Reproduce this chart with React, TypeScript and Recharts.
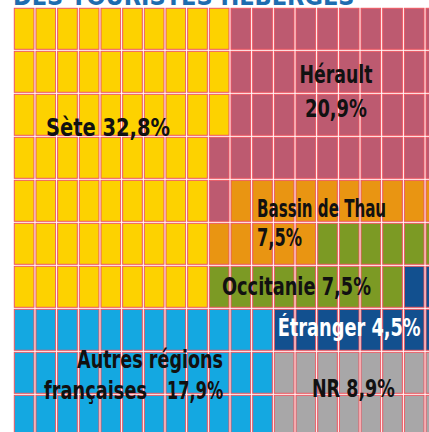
import React from 'react';
import { ScatterChart, Scatter, XAxis, YAxis, ReferenceArea } from 'recharts';

// Categories (waffle chart, 200 cells of 0.5 % each)
const categories = ['S', 'H', 'B', 'O', 'E', 'A', 'N'];
const categoryNames = ['Sète', 'Hérault', 'Bassin de Thau', 'Occitanie', 'Étranger', 'Autres régions françaises', 'NR'];
const shares = [32.8, 20.9, 7.5, 7.5, 4.5, 17.9, 8.9];
const colors = ['#fdd200', '#bd5a70', '#e99512', '#7c9a24', '#12508f', '#14a8e1', '#a8a7a8'];

// Cell assignment per row of the waffle grid (20 columns x 10 rows)
const gridRows = [
  'SSSSSSSSSSHHHHHHHHHH',
  'SSSSSSSSSSHHHHHHHHHH',
  'SSSSSSSSSSHHHHHHHHHH',
  'SSSSSSSSSHHHHHHHHHHH',
  'SSSSSSSSSHBBBBBBBBBB',
  'SSSSSSSSSBBBBBOOOOOO',
  'SSSSSSSSSOOOOOOOOOEE',
  'AAAAAAAAAAAAEEEEEEEE',
  'AAAAAAAAAAAANNNNNNNN',
  'AAAAAAAAAAAANNNNNNNN',
];

// Label texts
const labelTexts = ['Sète  32,8%', 'Hérault', '20,9%', 'Bassin de Thau', '7,5%', 'Occitanie 7,5%', 'Étranger 4,5%', 'Autres régions', 'françaises', '17,9%', 'NR 8,9%'];

// Label layout (grid units: column, row) – styling only
const labelLayout = [
  { x: 1.51, y: 3.0, anchor: 'start', w: 124, color: '#111' },
  { x: 14.89, y: 1.76, anchor: 'middle', w: 73, color: '#111' },
  { x: 14.89, y: 2.55, anchor: 'middle', w: 62, color: '#111' },
  { x: 11.25, y: 4.88, anchor: 'start', w: 129, color: '#111' },
  { x: 11.25, y: 5.55, anchor: 'start', w: 45, color: '#111' },
  { x: 9.63, y: 6.69, anchor: 'start', w: 149, color: '#111' },
  { x: 12.2, y: 7.64, anchor: 'start', w: 143, color: '#ffffff' },
  { x: 9.68, y: 8.38, anchor: 'end', w: 146, color: '#111' },
  { x: 1.42, y: 9.11, anchor: 'start', w: 103, color: '#111' },
  { x: 9.68, y: 9.11, anchor: 'end', w: 56, color: '#111' },
  { x: 13.78, y: 9.06, anchor: 'start', w: 83, color: '#111' },
];

const cells = gridRows.flatMap((row, r) =>
  row.split('').map((code, c) => ({ col: c, row: r, cat: categories.indexOf(code) }))
);

const labelData = labelTexts.map((t, i) => ({ text: t, ...labelLayout[i] }));

const CellShape = (props: any) => {
  const { x, y, width, height, fill } = props;
  return (
    <g>
      <rect x={x} y={y} width={width} height={height} fill="#ffffff" />
      <rect x={x + 1} y={y + 1} width={width - 2} height={height - 2} fill={fill} stroke="#ef5560" strokeWidth={1} />
    </g>
  );
};

const LabelShape = (props: any) => {
  const { cx, cy, payload } = props;
  return (
    <text
      x={cx}
      y={cy}
      textAnchor={payload.anchor}
      fill={payload.color}
      fontFamily="'Liberation Sans Narrow', 'DejaVu Sans Condensed', 'Roboto', sans-serif"
      fontWeight="bold"
      fontSize={25}
      textLength={payload.w}
      lengthAdjust="spacingAndGlyphs"
    >
      {payload.text}
    </text>
  );
};

export default function App() {
  return (
    <div style={{ position: 'absolute', left: 0, top: 0, width: 429, height: 432, overflow: 'hidden', background: '#fff' }}>
      <div
        style={{
          position: 'absolute',
          left: 13,
          top: -16,
          fontFamily: "'Liberation Sans Narrow', 'DejaVu Sans Condensed', sans-serif",
          fontWeight: 'bold',
          fontSize: 25,
          lineHeight: '25px',
          color: '#1e6db0',
          whiteSpace: 'nowrap',
        }}
      >
        DES TOURISTES HÉBERGÉS
      </div>
      <ScatterChart width={460} height={445} margin={{ top: 7.3, left: 13.3, right: 13.3, bottom: 7.7 }}>
        <XAxis type="number" dataKey="x" domain={[0, 20]} hide allowDataOverflow />
        <YAxis type="number" dataKey="y" domain={[0, 10]} reversed hide allowDataOverflow />
        {cells.map((c, i) => (
          <ReferenceArea
            key={i}
            x1={c.col}
            x2={c.col + 1}
            y1={c.row}
            y2={c.row + 1}
            fill={colors[c.cat]}
            fillOpacity={1}
            shape={<CellShape />}
          />
        ))}
        <Scatter data={labelData} dataKey="y" isAnimationActive={false} shape={<LabelShape />} />
      </ScatterChart>
    </div>
  );
}
